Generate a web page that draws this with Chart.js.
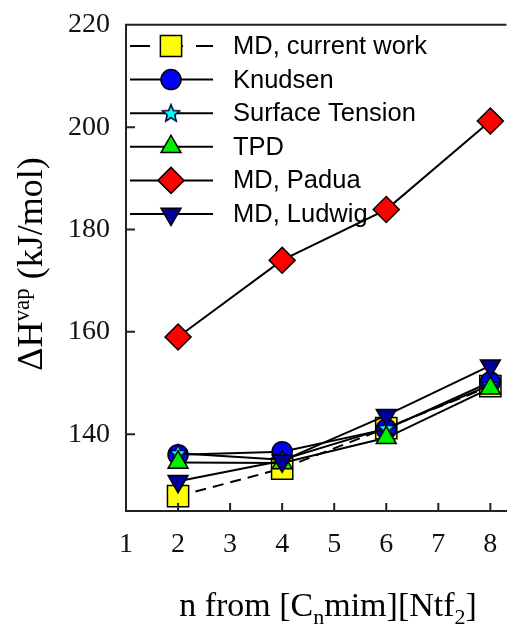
<!DOCTYPE html>
<html lang="en">
  <head>
    <meta charset="UTF-8" />
    <title>Heat of vaporization</title>
    <style>
      body { margin: 0; background: #fff; }
    </style>
  </head>
  <body>
    <canvas id="myChart" width="523" height="626"></canvas>

    <script src="https://cdn.jsdelivr.net/npm/chart.js"></script>
    <script>
      // n from [Cnmim][Ntf2]
      const nValues = [2, 4, 6, 8];
      const xTicks = [1, 2, 3, 4, 5, 6, 7, 8];
      const yTicks = [140, 160, 180, 200, 220];

      // heat of vaporization, kJ/mol
      const mdCurrent = [127.9, 133.3, 141.2, 149.4];
      const knudsen = [136.0, 136.6, 141.0, 150.2];
      const surfaceTension = [136.3, 135.0, 141.2, 149.6];
      const tpd = [134.5, 134.4, 139.3, 149.0];
      const mdPadua = [159.0, 174.0, 183.9, 201.2];
      const mdLudwig = [130.8, 134.8, 143.7, 153.4];

      const labels = ["MD, current work", "Knudsen", "Surface Tension", "TPD", "MD, Padua", "MD, Ludwig"];

      // filled five point star (Chart.js 'star' is only an asterisk)
      const star = document.createElement("canvas");
      star.width = 20;
      star.height = 20;
      (() => {
        const c = star.getContext("2d");
        c.beginPath();
        for (let i = 0; i < 10; i++) {
          const r = i % 2 ? 4 : 9;
          const a = -Math.PI / 2 + (i * Math.PI) / 5;
          c.lineTo(10 + r * Math.cos(a), 10.5 + r * Math.sin(a));
        }
        c.closePath();
        c.fillStyle = "#00ffff";
        c.fill();
        c.lineWidth = 1.5;
        c.strokeStyle = "#000033";
        c.stroke();
      })();

      const pts = (arr) => arr.map((v, i) => ({ x: nValues[i], y: v }));

      const styles = [
        { data: mdCurrent, pointStyle: "rect", radius: 15, color: "#ffff00", dash: [11, 7], order: 5 },
        { data: knudsen, pointStyle: "circle", radius: 10, color: "#0000ff", order: 4 },
        { data: surfaceTension, pointStyle: star, radius: 10, color: "#00ffff", order: 3 },
        { data: tpd, pointStyle: "triangle", radius: 11.5, color: "#00ee00", order: 2 },
        { data: mdPadua, pointStyle: "rectRot", radius: 13, color: "#ff0000", order: 1 },
        { data: mdLudwig, pointStyle: "triangle", rotation: 180, radius: 11.5, color: "#000099", order: 0 },
      ];

      const datasets = styles.map((s, i) => ({
        label: labels[i],
        data: pts(s.data),
        showLine: true,
        borderColor: "#000",
        borderWidth: 2,
        borderDash: s.dash || [],
        pointStyle: s.pointStyle,
        pointRotation: s.rotation || 0,
        pointRadius: s.radius,
        pointHoverRadius: s.radius,
        pointBackgroundColor: s.color,
        pointBorderColor: "#000",
        pointBorderWidth: 1.5,
        order: s.order,
        clip: false,
      }));

      const drawRich = (ctx, parts, x, y, big, small) => {
        // parts: [text, shift]; shift 0 normal, >0 subscript, <0 superscript
        let w = 0;
        parts.forEach(([t, s]) => {
          ctx.font = (s ? small : big) + "px 'Liberation Serif', 'Times New Roman', serif";
          w += ctx.measureText(t).width;
        });
        let cx = x - w / 2;
        parts.forEach(([t, s]) => {
          ctx.font = (s ? small : big) + "px 'Liberation Serif', 'Times New Roman', serif";
          ctx.fillText(t, cx, y + s);
          cx += ctx.measureText(t).width;
        });
      };

      const extras = {
        id: "extras",
        afterDraw(chart) {
          const { ctx, chartArea: a, scales } = chart;
          const x = scales.x, y = scales.y;
          ctx.save();

          // top frame line and inward ticks
          ctx.strokeStyle = "#222";
          ctx.lineWidth = 2;
          ctx.beginPath();
          ctx.moveTo(a.left - 1, a.top);
          ctx.lineTo(a.right, a.top);
          xTicks.slice(1).forEach((v) => {
            const px = x.getPixelForValue(v);
            ctx.moveTo(px, a.bottom);
            ctx.lineTo(px, a.bottom - 8);
          });
          yTicks.forEach((v) => {
            const py = y.getPixelForValue(v);
            ctx.moveTo(a.left, py);
            ctx.lineTo(a.left + 9, py);
          });
          ctx.stroke();

          // legend: line + marker + text
          const lx0 = 130, lx1 = 213, mx = 171, tx = 233, ty0 = 46, dy = 33.6;
          ctx.textBaseline = "middle";
          ctx.textAlign = "left";
          styles.forEach((s, i) => {
            const ly = ty0 + i * dy;
            ctx.strokeStyle = "#000";
            ctx.lineWidth = 2;
            ctx.setLineDash(s.dash ? [20, 13] : []);
            ctx.beginPath();
            ctx.moveTo(lx0, ly);
            ctx.lineTo(lx1, ly);
            ctx.stroke();
            ctx.setLineDash([]);
            ctx.fillStyle = s.color;
            ctx.lineWidth = 1.5;
            Chart.helpers.drawPoint(ctx, {
              pointStyle: s.pointStyle,
              rotation: s.rotation || 0,
              radius: s.radius,
              borderWidth: 1.5,
            }, mx, ly);
            ctx.fillStyle = "#000";
            ctx.font = "25.5px 'Liberation Sans', Arial, sans-serif";
            ctx.fillText(labels[i], tx, ly + 1);
          });

          // axis titles with sub/superscripts
          ctx.fillStyle = "#000";
          ctx.textBaseline = "alphabetic";
          drawRich(ctx, [["n from [C", 0], ["n", 8], ["mim][Ntf", 0], ["2", 8], ["]", 0]], 328, 616, 34, 22);
          ctx.translate(42, 264);
          ctx.rotate(-Math.PI / 2);
          drawRich(ctx, [["\u0394H", 0], ["vap", -13], [" (kJ/mol)", 0]], 0, 0, 36, 23);
          ctx.restore();
        },
      };

      const tickFont = { family: "'Liberation Serif', 'Times New Roman', serif", size: 28 };

      new Chart(document.getElementById("myChart"), {
        type: "scatter",
        data: { datasets },
        options: {
          responsive: false,
          devicePixelRatio: 1,
          animation: false,
          layout: { padding: { top: 14, left: 0, right: 0, bottom: 0 } },
          plugins: { legend: { display: false }, tooltip: { enabled: false } },
          scales: {
            x: {
              type: "linear",
              min: 1,
              max: 8.31,
              grid: { display: false },
              border: { display: true, color: "#222", width: 2 },
              ticks: { font: tickFont, color: "#111", padding: 9 },
              afterBuildTicks: (s) => { s.ticks = xTicks.map((v) => ({ value: v })); },
              afterFit: (s) => { s.height = 115; },
            },
            y: {
              type: "linear",
              min: 125,
              max: 220,
              grid: { display: false },
              border: { display: true, color: "#222", width: 2 },
              ticks: { font: tickFont, color: "#111", padding: 8 },
              afterBuildTicks: (s) => { s.ticks = yTicks.map((v) => ({ value: v })); },
              afterFit: (s) => { s.width = 126; },
            },
          },
        },
        plugins: [extras],
      });
    </script>
  </body>
</html>
